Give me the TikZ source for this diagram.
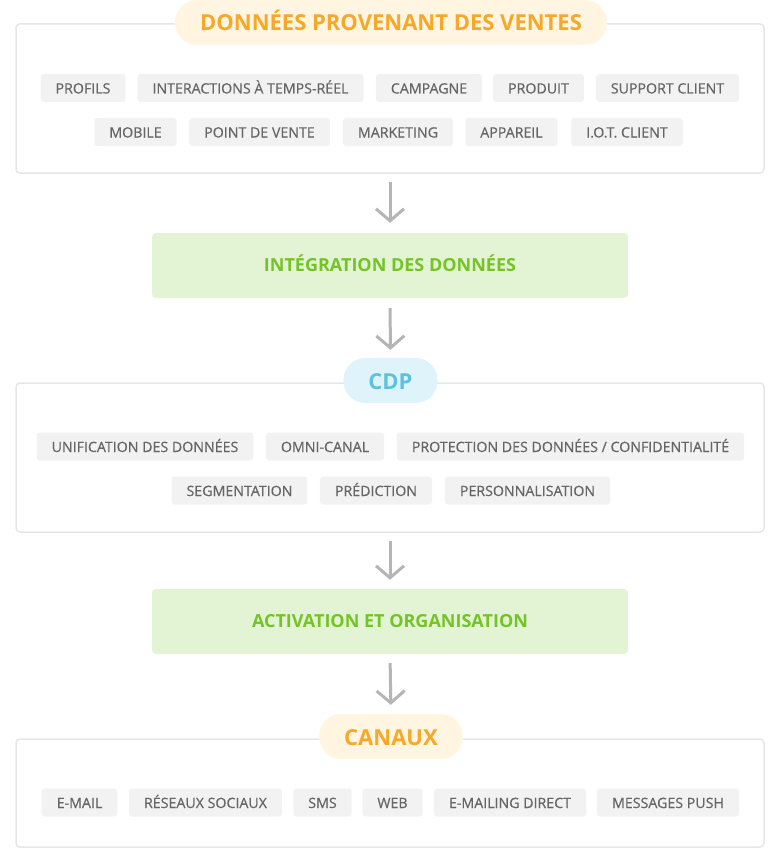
\documentclass[tikz,border=0pt]{standalone}
\usepackage{fontspec}
\setmainfont{Open Sans}
\newfontfamily\tagfont{Open Sans}[FakeBold=0.5]
\usetikzlibrary{arrows.meta}
\definecolor{panelgray}{HTML}{E6E6E6}
\definecolor{tagbg}{HTML}{F2F2F2}
\definecolor{tagtext}{HTML}{666666}
\definecolor{arrowgray}{HTML}{B5B5B5}
\definecolor{orangebg}{HTML}{FFF5E1}
\definecolor{orangetext}{HTML}{F7A829}
\definecolor{bluebg}{HTML}{DFF3FA}
\definecolor{bluetext}{HTML}{5BC3DF}
\definecolor{stagebg}{HTML}{E3F4D4}
\definecolor{stagetext}{HTML}{74C425}
\tikzset{
	panel/.style={draw=panelgray, line width=1.5pt, rounded corners=4pt, minimum width=748pt, inner sep=0pt},
	pill/.style={rounded corners=22pt, minimum height=45pt, inner xsep=25pt, inner ysep=0pt, text height=17pt, text depth=0pt, font=\bfseries\fontsize{22}{25}\selectfont},
	tag/.style={fill=tagbg, text=tagtext, rounded corners=3pt, minimum height=28pt, inner xsep=15pt, inner ysep=0pt, text height=11pt, text depth=0pt, font=\tagfont\fontsize{14.2}{17}\selectfont},
	stage/.style={fill=stagebg, text=stagetext, rounded corners=4pt, minimum width=476pt, minimum height=65pt, text height=12.5pt, text depth=0pt, font=\bfseries\fontsize{18}{21}\selectfont},
	flow/.style={draw=arrowgray, line width=3pt, -{Straight Barb[length=12pt,width=28pt]}}
}
\begin{document}
\begin{tikzpicture}[x=1pt,y=-1pt]
			\useasboundingbox (0,0) rectangle (780,848);

			\node[panel, minimum height=149pt] at (390,98.5) (ventes) {};
			\node[pill, fill=orangebg, text=orangetext] at (391,22.5) (ventestitle) {DONNÉES PROVENANT DES VENTES};
			\node[tag] at (83,88) (profils) {PROFILS};
			\node[tag] at (250.5,88) (interactions) {INTERACTIONS À TEMPS-RÉEL};
			\node[tag] at (429,88) (campagne) {CAMPAGNE};
			\node[tag] at (538.5,88) (produit) {PRODUIT};
			\node[tag] at (667.5,88) (support) {SUPPORT CLIENT};
			\node[tag] at (135.5,132) (mobile) {MOBILE};
			\node[tag] at (259.5,132) (pointvente) {POINT DE VENTE};
			\node[tag] at (398,132) (marketing) {MARKETING};
			\node[tag] at (511.5,132) (appareil) {APPAREIL};
			\node[tag] at (627,132) (iot) {I.O.T. CLIENT};

			\node[stage] at (390,265.5) (integration) {INTÉGRATION DES DONNÉES};

			\node[panel, minimum height=149pt] at (390,457.5) (cdp) {};
			\node[pill, fill=bluebg, text=bluetext] at (390.5,380.5) (cdptitle) {CDP};
			\node[tag] at (145,446.5) (unification) {UNIFICATION DES DONNÉES};
			\node[tag] at (325,446.5) (omnicanal) {OMNI-CANAL};
			\node[tag] at (570.5,446.5) (protection) {PROTECTION DES DONNÉES / CONFIDENTIALITÉ};
			\node[tag] at (239.5,490.5) (segmentation) {SEGMENTATION};
			\node[tag] at (376,490.5) (prediction) {PRÉDICTION};
			\node[tag] at (527.5,490.5) (perso) {PERSONNALISATION};

			\node[stage] at (390,621.5) (activation) {ACTIVATION ET ORGANISATION};

			\node[panel, minimum height=108pt] at (390,793) (canaux) {};
			\node[pill, fill=orangebg, text=orangetext] at (391,736.5) (canauxtitle) {CANAUX};
			\node[tag] at (79.5,802.5) (email) {E-MAIL};
			\node[tag] at (205.5,802.5) (reseaux) {RÉSEAUX SOCIAUX};
			\node[tag] at (322.5,802.5) (sms) {SMS};
			\node[tag] at (392.5,802.5) (web) {WEB};
			\node[tag] at (510,802.5) (emailing) {E-MAILING DIRECT};
			\node[tag] at (668,802.5) (push) {MESSAGES PUSH};

			\draw[flow, shorten <=8pt, shorten >=10pt] (ventes.south) -- (integration.north);
			\draw[flow, shorten <=10pt, shorten >=8pt] (integration.south) -- (cdptitle.north);
			\draw[flow, shorten <=8pt, shorten >=9pt] (cdp.south) -- (activation.north);
			\draw[flow, shorten <=9pt, shorten >=9pt] (activation.south) -- (canauxtitle.north);
		\end{tikzpicture}
\end{document}
